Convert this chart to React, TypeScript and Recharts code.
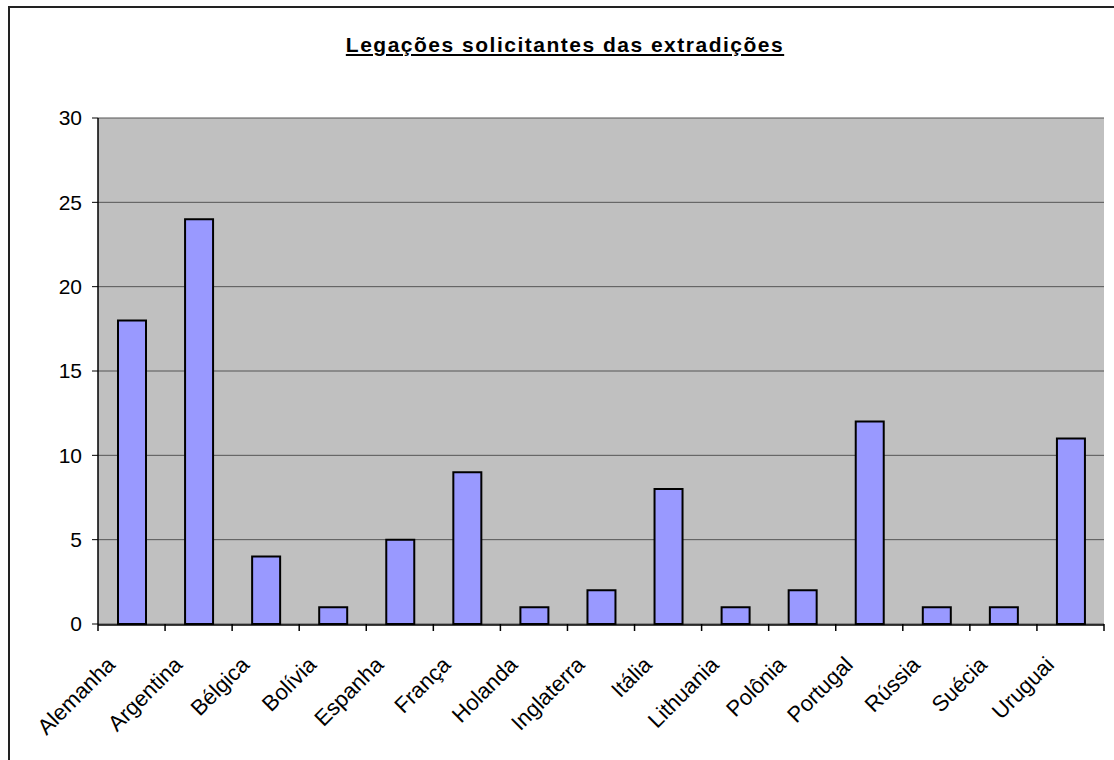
import React from 'react';
import { BarChart, Bar, XAxis, YAxis, CartesianGrid } from 'recharts';

const countries = [
  'Alemanha', 'Argentina', 'Bélgica', 'Bolívia', 'Espanha', 'França', 'Holanda',
  'Inglaterra', 'Itália', 'Lithuania', 'Polônia', 'Portugal', 'Rússia', 'Suécia', 'Uruguai',
];
const requests = [18, 24, 4, 1, 5, 9, 1, 2, 8, 1, 2, 12, 1, 1, 11];
const yTicks = [0, 5, 10, 15, 20, 25, 30];
const boundaryTicks = countries.map((_, i) => i).concat(countries.length);

// slot = centre of each category on a 0..N scale, used by the boundary-tick axis
const data = countries.map((name, i) => ({ name, value: requests[i], slot: i + 0.5 }));

const FONT = '"Liberation Sans", Arial, sans-serif';

function CountryTick(props: any) {
  const { x, y, payload } = props;
  return (
    <g transform={`translate(${x - 15},${y + 33})`}>
      <text
        x={0}
        y={0}
        textAnchor="end"
        transform="rotate(-45)"
        fill="#000"
        fontSize={22}
        fontFamily={FONT}
      >
        {payload.value}
      </text>
    </g>
  );
}

function EmptyTick() {
  return <g />;
}

export default function App() {
  return (
    <div style={{ position: 'absolute', left: 0, top: 0, width: 1114, height: 760, background: '#fff', overflow: 'hidden' }}>
      <div style={{ position: 'absolute', left: 8, top: 6, width: 1130, height: 780, border: '2px solid #222' }} />
      <div
        style={{
          position: 'absolute', left: 0, top: 33, width: 1130, textAlign: 'center',
          fontFamily: FONT, fontWeight: 'bold', fontSize: 21, letterSpacing: 1.5,
          textDecoration: 'underline', color: '#000', lineHeight: '24px',
        }}
      >
        Legações solicitantes das extradições
      </div>
      <div style={{ position: 'absolute', left: 0, top: 0 }}>
        <BarChart
          width={1114}
          height={760}
          data={data}
          margin={{ top: 118, right: 10, bottom: 36, left: 38 }}
          barCategoryGap={0}
        >
          <CartesianGrid vertical={false} fill="#C0C0C0" stroke="#555" horizontalValues={yTicks} yAxisId="v" />
          <XAxis
            xAxisId={0}
            dataKey="slot"
            type="number"
            domain={[0, countries.length]}
            allowDataOverflow
            ticks={boundaryTicks}
            interval={0}
            height={1}
            tick={<EmptyTick />}
            tickSize={7}
            tickLine={{ stroke: '#000', strokeWidth: 1.5 }}
            axisLine={false}
          />
          <XAxis
            dataKey="name"
            xAxisId="cat"
            interval={0}
            height={99}
            tickLine={false}
            axisLine={{ stroke: '#000', strokeWidth: 1.5 }}
            tick={<CountryTick />}
          />
          <YAxis
            yAxisId="v"
            domain={[0, 30]}
            ticks={yTicks}
            width={60}
            tickSize={6}
            tickMargin={10}
            axisLine={{ stroke: '#000', strokeWidth: 1.5 }}
            tickLine={{ stroke: '#000' }}
            tick={{ fill: '#000', fontSize: 21, fontFamily: FONT }}
          />
          <YAxis
            yAxisId="edge"
            orientation="right"
            width={0}
            tick={false}
            tickLine={false}
            axisLine={{ stroke: '#808080', strokeWidth: 2 }}
          />
          <Bar
            dataKey="value"
            xAxisId="cat"
            yAxisId="v"
            barSize={28}
            fill="#9999FF"
            stroke="#000"
            strokeWidth={2}
            isAnimationActive={false}
          />
        </BarChart>
      </div>
    </div>
  );
}
